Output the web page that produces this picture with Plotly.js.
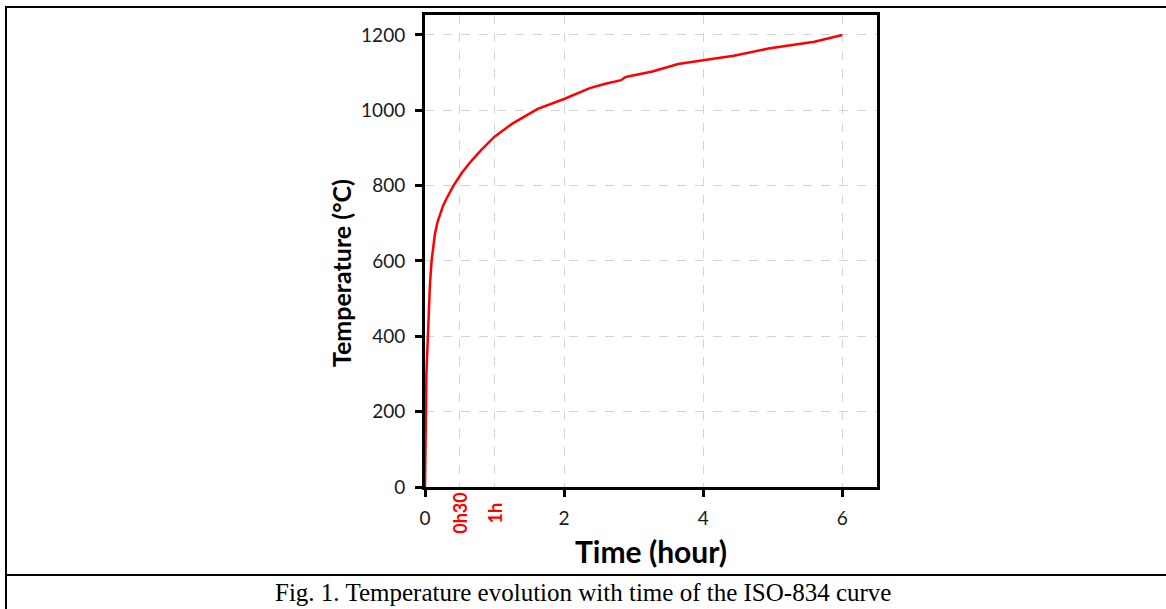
<!DOCTYPE html>
<html>
<head>
<meta charset="utf-8">
<script src="https://cdn.plot.ly/plotly-3.0.1.min.js"></script>
<style>
html,body{margin:0;padding:0;background:#fff;}
#chart{width:1166px;height:609px;}
</style>
</head>
<body>
<div id="chart"></div>
<script>
// Data (time in hours, temperature in °C)
const timeHours = [0, 0.005, 0.012, 0.02, 0.033, 0.048, 0.072, 0.096, 0.12, 0.144, 0.18, 0.216, 0.26, 0.31, 0.41, 0.53, 0.65, 0.80, 1.0, 1.25, 1.53, 1.62, 2.0, 2.37, 2.58, 2.82, 2.87, 2.92, 3.27, 3.64, 4.0, 4.44, 4.94, 5.6, 6.0];
const temperature = [0, 120, 230, 300, 362, 453, 541, 603, 643, 673, 703, 726, 747, 766, 800, 834, 862, 893, 930, 964, 996, 1004, 1030, 1059, 1070, 1080, 1087, 1090, 1103, 1123, 1133, 1145, 1164, 1182, 1200];
const xTickVals = [0, 2, 4, 6];
const xTickText = ['0', '2', '4', '6'];
const yTickVals = [0, 200, 400, 600, 800, 1000, 1200];
const markerVals = [0.5, 1];
const markerText = ['0h30', '1h'];
const xTitle = 'Time (hour)';
const yTitle = 'Temperature (°C)';
const captionText = 'Fig. 1. Temperature evolution with time of the ISO-834 curve';

// plot area in pixels
const W = 1166, H = 609;
const L = 425, R = 877, T = 15, B = 487;
const pw = R - L, ph = B - T;
const px = v => (v - L) / pw;
const py = v => (B - v) / ph;

const tickFont = {family: 'Lato, sans-serif', size: 19, color: '#1a1a1a'};

const trace = {
  x: timeHours, y: temperature, type: 'scatter', mode: 'lines',
  line: {color: '#ff0000', width: 2.5}, hoverinfo: 'skip'
};

const annotations = markerVals.map((v, i) => ({
  x: v, xref: 'x', y: py(513), yref: 'paper', text: '<b>' + markerText[i] + '</b>',
  showarrow: false, textangle: -90, font: {family: 'Lato, sans-serif', size: 18, color: '#ff0000'},
  xanchor: 'center', yanchor: 'middle'
}));
annotations.push({
  x: px(651), xref: 'paper', y: py(551), yref: 'paper', text: '<b>' + xTitle + '</b>', showarrow: false,
  font: {family: 'Lato, sans-serif', size: 30, color: '#000'}, xanchor: 'center', yanchor: 'middle'
});
annotations.push({
  x: px(341), xref: 'paper', y: py(273), yref: 'paper', text: '<b>' + yTitle + '</b>', showarrow: false,
  textangle: -90, font: {family: 'Lato, sans-serif', size: 25, color: '#000'}, xanchor: 'center', yanchor: 'middle'
});
annotations.push({
  x: px(583), xref: 'paper', y: py(592), yref: 'paper', text: captionText, showarrow: false,
  font: {family: '"Liberation Serif", "Times New Roman", serif', size: 25, color: '#000'},
  xanchor: 'center', yanchor: 'middle'
});

const frameLine = {color: '#000', width: 2};
const shapes = [
  {type: 'line', xref: 'paper', yref: 'paper', x0: px(6), x1: px(6), y0: py(6), y1: py(612), line: frameLine},
  {type: 'line', xref: 'paper', yref: 'paper', x0: px(5), x1: px(1170), y0: py(7), y1: py(7), line: frameLine},
  {type: 'line', xref: 'paper', yref: 'paper', x0: px(5), x1: px(1170), y0: py(575), y1: py(575), line: frameLine}
];

const layout = {
  width: W, height: H,
  margin: {l: L, r: W - R, t: T, b: H - B, pad: 0},
  paper_bgcolor: '#fff', plot_bgcolor: '#fff',
  showlegend: false,
  xaxis: {
    range: [0, 6.5], tickvals: xTickVals, ticktext: xTickText,
    ticks: 'outside', ticklen: 7, tickwidth: 3, tickcolor: '#000',
    showline: true, linewidth: 3, linecolor: '#000', mirror: true,
    showgrid: true, gridcolor: '#d4d4d4', gridwidth: 1, griddash: 'dash',
    minor: {tickvals: markerVals, showgrid: true, gridcolor: '#d4d4d4', gridwidth: 1, griddash: 'dash', ticks: ''},
    zeroline: false, tickfont: tickFont, ticklabelstandoff: 5
  },
  yaxis: {
    range: [0, 1253], tickvals: yTickVals,
    ticks: 'outside', ticklen: 7, tickwidth: 3, tickcolor: '#000',
    showline: true, linewidth: 3, linecolor: '#000', mirror: true,
    showgrid: true, gridcolor: '#d4d4d4', gridwidth: 1, griddash: 'dash',
    zeroline: false, tickfont: tickFont, ticklabelstandoff: 6
  },
  annotations: annotations,
  shapes: shapes
};

Plotly.newPlot('chart', [trace], layout, {staticPlot: true, displayModeBar: false});
</script>
</body>
</html>
